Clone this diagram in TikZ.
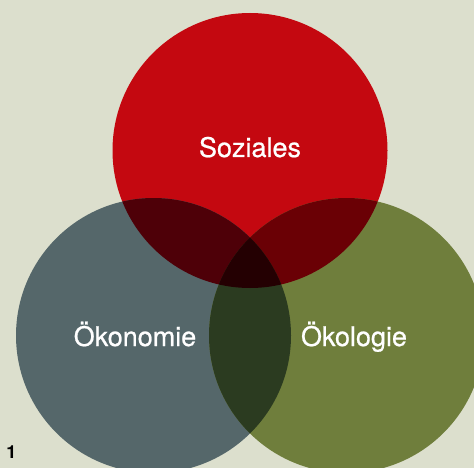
\documentclass[tikz,border=0pt]{standalone}
\usepackage{fontspec}
\setmainfont{TeX Gyre Heros}
\newfontfamily\medfont[FakeBold=0.7]{TeX Gyre Heros}
\definecolor{bg}{RGB}{220,223,205}
\definecolor{sozial}{RGB}{196,8,16}
\definecolor{oekon}{RGB}{85,103,106}
\definecolor{oekol}{RGB}{111,126,60}
\definecolor{sozoekon}{RGB}{78,0,8}
\definecolor{sozoekol}{RGB}{106,0,5}
\definecolor{oekoek}{RGB}{43,59,32}
\definecolor{alle}{RGB}{36,0,2}
\tikzset{
    ring/.style={radius=137.5pt},
    word/.style={text=white, anchor=base, inner sep=0pt, font=\medfont\fontsize{27}{30}\selectfont},
    figno/.style={anchor=base, inner sep=0pt, font=\fontsize{18}{20}\selectfont\bfseries}
}

\begin{document}
\begin{tikzpicture}[x=1pt, y=-1pt]
    \fill[bg] (0,0) rectangle (474,468);
    \clip (0,0) rectangle (474,468);
    \coordinate (S) at (250,150.5);
    \coordinate (Ek) at (153.5,335.5);
    \coordinate (El) at (346.5,335.5);
    % die drei Kreise
    \fill[sozial, ring] (S) circle;
    \fill[oekon, ring] (Ek) circle;
    \fill[oekol, ring] (El) circle;
    % Schnittflaechen
    \begin{scope}
        \clip[ring] (S) circle;
        \fill[sozoekon, ring] (Ek) circle;
        \fill[sozoekol, ring] (El) circle;
    \end{scope}
    \begin{scope}
        \clip[ring] (Ek) circle;
        \fill[oekoek, ring] (El) circle;
        \clip[ring] (El) circle;
        \fill[alle, ring] (S) circle;
    \end{scope}
    \node[word] (soziales) at (250,157) {Soziales};
    \node[word] (oekonomie) at (135,346) {Ökonomie};
    \node[word] (oekologie) at (354,346) {Ökologie};
    \node[figno] (nr) at (11.5,458) {1};
\end{tikzpicture}
\end{document}
